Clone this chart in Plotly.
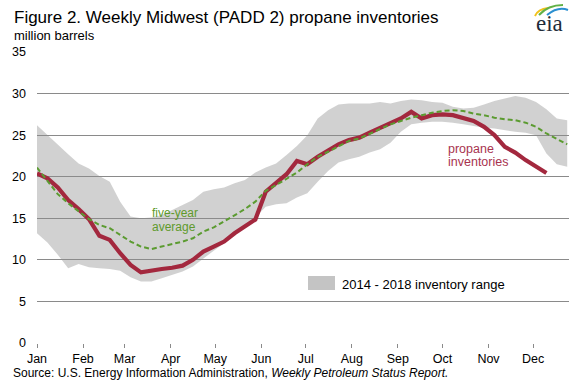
import datetime as dt
import plotly.graph_objects as go

# ---------------- data (million barrels, weekly) ----------------
start = dt.date(2018, 1, 1)
weeks = [start + dt.timedelta(days=7 * i) for i in range(52)]

propane = [20.4, 19.8, 18.7, 17.2, 16.1, 14.9, 12.9, 12.4, 10.8, 9.4,
           8.5, 8.75, 8.9, 9.05, 9.3, 10.0, 11.0, 11.6, 12.2, 13.2,
           14.0, 14.85, 18.2, 19.2, 20.3, 21.9, 21.5, 22.4, 23.1, 23.9,
           24.4, 24.7, 25.3, 25.9, 26.5, 27.0, 27.8, 27.0, 27.4, 27.5,
           27.4, 27.0, 26.7, 26.0, 25.0, 23.6, 22.9, 22.0, 21.2, 20.45]

five_year_avg = [21.1, 19.5, 17.9, 16.8, 15.8, 14.9, 14.2, 13.8, 13.0, 12.2,
                 11.6, 11.3, 11.6, 11.9, 12.2, 12.6, 13.4, 13.9, 14.6, 15.4,
                 16.1, 17.0, 18.3, 19.0, 19.7, 20.5, 21.5, 22.4, 23.0, 23.7,
                 24.3, 24.6, 25.2, 25.8, 26.3, 26.7, 27.1, 27.4, 27.7, 27.9,
                 28.0, 27.9, 27.6, 27.4, 27.1, 26.9, 26.8, 26.5, 26.0, 25.2,
                 24.5, 23.9]

range_high = [26.2, 25.0, 23.8, 22.7, 21.6, 21.0, 20.1, 19.4, 17.0, 15.2,
              15.0, 15.1, 15.4, 16.0, 16.6, 17.2, 18.2, 18.5, 18.7, 19.2,
              19.6, 20.5, 21.1, 21.6, 22.6, 23.7, 25.0, 27.0, 28.0, 28.7,
              28.8, 28.8, 28.8, 29.0, 28.8, 29.1, 29.3, 29.2, 29.0, 28.9,
              28.4, 28.2, 28.3, 28.7, 29.1, 29.4, 29.7, 29.5, 29.0, 28.1,
              27.0, 26.8]

range_low = [13.2, 12.1, 10.6, 9.0, 9.5, 9.1, 9.0, 8.9, 8.7, 7.9,
             7.4, 7.4, 7.8, 8.2, 8.6, 9.2, 10.2, 11.1, 12.0, 13.1,
             14.1, 15.1, 16.4, 16.7, 16.8, 17.5, 18.0, 19.4, 20.7, 21.7,
             22.1, 22.4, 22.9, 23.3, 24.1, 25.4, 26.3, 26.5, 26.6, 26.6,
             26.5, 26.3, 26.1, 25.9, 25.8, 25.6, 25.4, 25.3, 25.0, 22.8,
             21.5, 21.2]

month_ticks = [dt.date(2018, m, 1) for m in range(1, 13)]
month_labels = ["Jan", "Feb", "Mar", "Apr", "May", "Jun",
                "Jul", "Aug", "Sep", "Oct", "Nov", "Dec"]
y_ticks = [0, 5, 10, 15, 20, 25, 30, 35]

# ---------------- styling ----------------
W, H = 577, 385
ML, MR, MT, MB = 37, 8, 52, 42
PW, PH = W - ML - MR, H - MT - MB


def X(px):
    return (px - ML) / PW


def Y(py):
    return (H - MB - py) / PH


FONT = "Arial, Liberation Sans, sans-serif"
RED = "#a3283e"
GREEN = "#5b9b30"
GRID = "#8a8a8a"

fig = go.Figure()

# inventory range band
fig.add_trace(go.Scatter(x=weeks, y=range_low, mode="lines",
                         line=dict(width=0, color="rgba(0,0,0,0)"),
                         hoverinfo="skip", showlegend=False))
fig.add_trace(go.Scatter(x=weeks, y=range_high, mode="lines", fill="tonexty",
                         fillcolor="rgba(140,140,140,0.40)",
                         line=dict(width=0, color="rgba(0,0,0,0)"),
                         name="2014 - 2018 inventory range", showlegend=False))
# propane inventories
fig.add_trace(go.Scatter(x=weeks[:len(propane)], y=propane, mode="lines",
                         line=dict(color=RED, width=4.2), name="propane inventories",
                         showlegend=False))
# five-year average
fig.add_trace(go.Scatter(x=weeks, y=five_year_avg, mode="lines",
                         line=dict(color=GREEN, width=2, dash="5px,3px"),
                         name="five-year average", showlegend=False))

annotations = [
    dict(text="Figure 2. Weekly Midwest (PADD 2) propane inventories",
         x=X(12), y=Y(18), xanchor="left", yanchor="middle",
         font=dict(size=17, color="#000")),
    dict(text="million barrels", x=X(12), y=Y(35.5), xanchor="left", yanchor="middle",
         font=dict(size=13, color="#000")),
    dict(text="Source: U.S. Energy Information Administration, <i>Weekly Petroleum Status Report.</i>",
         x=X(11), y=Y(373), xanchor="left", yanchor="middle",
         font=dict(size=12, color="#000")),
    dict(text="five-year", x=X(175), y=Y(212.5), xanchor="center", yanchor="middle",
         font=dict(size=12, color="#5f9a2c")),
    dict(text="average", x=X(174), y=Y(227), xanchor="center", yanchor="middle",
         font=dict(size=12, color="#5f9a2c")),
    dict(text="propane", x=X(446), y=Y(148.5), xanchor="left", yanchor="middle",
         font=dict(size=12.5, color="#a8334f")),
    dict(text="inventories", x=X(446), y=Y(162), xanchor="left", yanchor="middle",
         font=dict(size=12.5, color="#a8334f")),
    dict(text="2014 - 2018 inventory range", x=X(340), y=Y(284), xanchor="left",
         yanchor="middle", font=dict(size=13, color="#000")),
    dict(text="eia", x=X(549), y=Y(24), xanchor="center", yanchor="middle",
         font=dict(size=23, color="#1e2b3a", family="Liberation Serif, serif")),
]
for a in annotations:
    a.update(xref="paper", yref="paper", showarrow=False)

shapes = [
    dict(type="rect", xref="paper", yref="paper",
         x0=X(308), x1=X(335), y0=Y(290), y1=Y(276),
         fillcolor="#c4c4c4", line=dict(width=0)),
]
# eia logo swooshes
for (x0, y0, cx, cy, x1, y1, col) in [
    (535, 16, 538, 9, 548, 8, "#f2c21b"),
    (539, 15, 548, 5, 563, 5, "#62b146"),
    (547, 15, 558, 6, 568, 10, "#2a8fd0"),
]:
    shapes.append(dict(type="path", xref="paper", yref="paper",
                       path=f"M {X(x0)},{Y(y0)} Q {X(cx)},{Y(cy)} {X(x1)},{Y(y1)}",
                       line=dict(color=col, width=2)))

fig.update_layout(
    width=W, height=H,
    margin=dict(l=ML, r=MR, t=MT, b=MB),
    paper_bgcolor="white", plot_bgcolor="white",
    font=dict(family=FONT, color="#000"),
    showlegend=False,
    annotations=annotations,
    shapes=shapes,
    xaxis=dict(type="date", range=["2018-01-01", "2018-12-25 05:00"],
               tickvals=month_ticks, ticktext=month_labels,
               ticks="outside", ticklen=4, tickcolor=GRID, tickwidth=1,
               showgrid=False, showline=False, zeroline=False,
               tickfont=dict(size=12.5, color="#000")),
    yaxis=dict(range=[0, 35], tickvals=y_ticks, ticks="",
               showgrid=True, gridcolor=GRID, gridwidth=1,
               zeroline=False, showline=False, ticklabelstandoff=10,
               tickfont=dict(size=12.5, color="#000")),
)

fig.write_html("out.html",
               config={"displayModeBar": False},
               post_script="document.body.style.margin='0';document.body.style.padding='0';")
